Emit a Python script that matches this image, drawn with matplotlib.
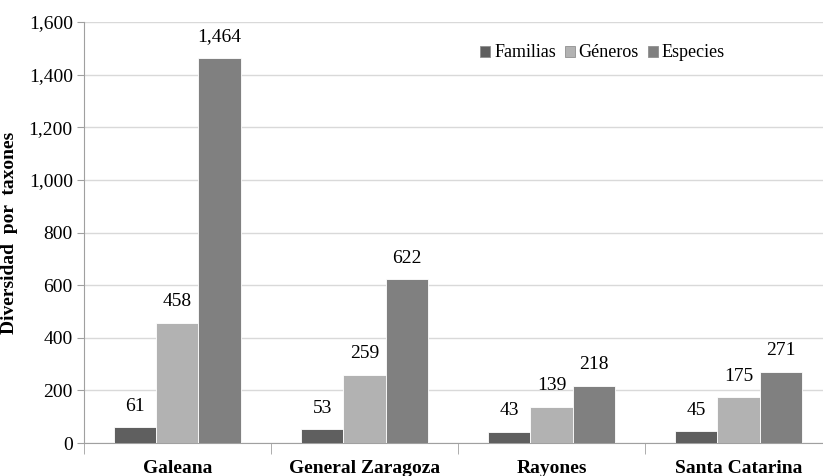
import numpy as np
import matplotlib.pyplot as plt
from matplotlib.ticker import FuncFormatter, FixedLocator

municipios = ['Galeana', 'General Zaragoza', 'Rayones', 'Santa Catarina']
series = ['Familias', 'Géneros', 'Especies']
familias = [61, 53, 43, 45]
generos = [458, 259, 139, 175]
especies = [1464, 622, 218, 271]
colores = ['#5f5f5f', '#b2b2b2', '#808080']

plt.rcParams['font.family'] = ['Liberation Serif', 'DejaVu Serif']

fig = plt.figure(figsize=(8.23, 4.76), dpi=100)
ax = fig.add_axes([0.102, 0.069, 0.909, 0.885])

x = np.arange(len(municipios))
w = 0.225
for i, (nombre, vals) in enumerate(zip(series, [familias, generos, especies])):
    pos = x + (i - 1) * w
    ax.bar(pos, vals, w, color=colores[i], edgecolor='white', linewidth=0.6, label=nombre, zorder=3)
    for p, v in zip(pos, vals):
        ax.annotate('{:,}'.format(v), (p, v), xytext=(0, 9), textcoords='offset points',
                    ha='center', va='bottom', fontsize=14)

ax.set_xlim(-0.5, len(municipios) - 0.5)
ax.set_ylim(0, 1600)
ax.set_yticks(np.arange(0, 1601, 200))
ax.yaxis.set_major_formatter(FuncFormatter(lambda v, p: '{:,.0f}'.format(v)))
ax.tick_params(axis='y', labelsize=14, length=5, color='#a0a0a0', pad=3)
ax.grid(axis='y', color='#d9d9d9', linewidth=1, zorder=0)

ax.set_xticks(x)
ax.set_xticklabels(municipios, fontsize=14, fontweight='bold')
ax.tick_params(axis='x', length=0, pad=12)
ax.xaxis.set_minor_locator(FixedLocator(np.arange(-0.5, len(municipios), 1.0)))
ax.tick_params(axis='x', which='minor', length=8, color='#a0a0a0')

for s in ['top', 'right']:
    ax.spines[s].set_visible(False)
ax.spines['left'].set_color('#a0a0a0')
ax.spines['bottom'].set_color('#a0a0a0')

ax.set_ylabel('Diversidad  por  taxones', fontsize=14, fontweight='bold', labelpad=8)

leg = ax.legend(loc='upper center', bbox_to_anchor=(0.693, 0.985), ncol=3, frameon=False,
                fontsize=13, handlelength=0.55, handleheight=0.55, handletextpad=0.2,
                columnspacing=0.5)
for h in leg.legend_handles:
    h.set_edgecolor('#909090')
    h.set_linewidth(0.6)

fig.savefig('out.png', dpi=100)
